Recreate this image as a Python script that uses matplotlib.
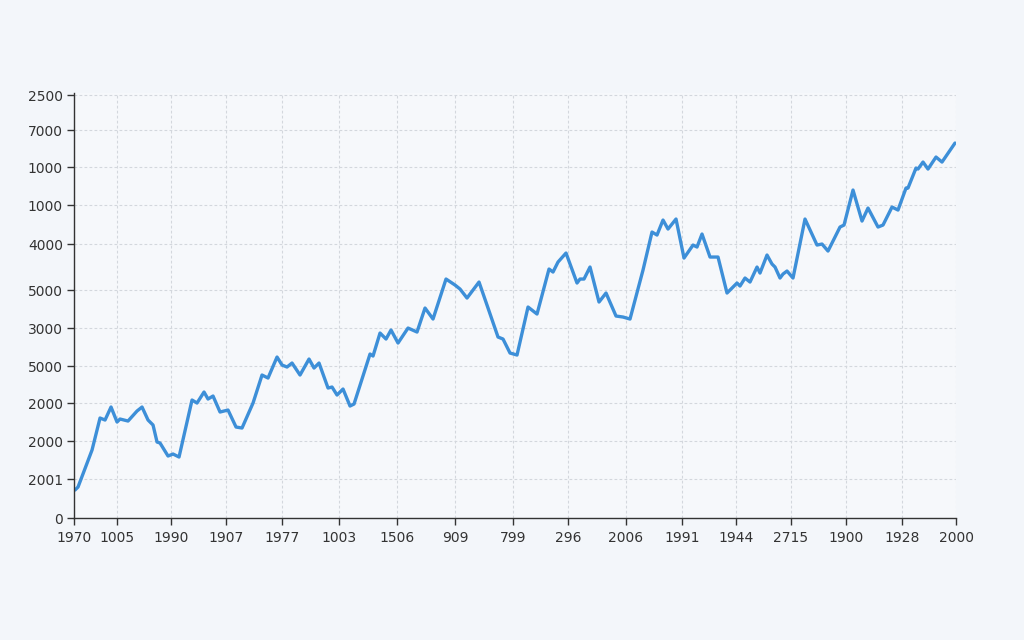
import matplotlib
matplotlib.use("Agg")
from matplotlib import pyplot as plt

# line readings (step, value)
steps = [1, 4, 18, 26, 31, 37, 43, 46, 54, 63,
         68, 74, 79, 83, 86, 94, 99, 105, 118, 123,
         130, 134, 139, 146, 154, 162, 168, 179, 188, 194,
         203, 208, 213, 218, 226, 235, 240, 245, 254, 258,
         263, 269, 276, 280, 296, 299, 306, 312, 317, 324,
         334, 343, 351, 359, 372, 381, 386, 393, 405, 414,
         424, 429, 436, 443, 454, 463, 475, 479, 484, 492,
         503, 506, 510, 516, 525, 532, 542, 549, 556, 569,
         578, 583, 589, 594, 602, 610, 619, 623, 628, 636,
         644, 653, 663, 666, 671, 676, 683, 686, 693, 698,
         701, 706, 709, 713, 719, 731, 743, 748, 754, 766,
         770, 779, 788, 794, 804, 809, 818, 824, 832, 834,
         842, 844, 849, 854, 862, 868, 881]
values = [28, 31, 68, 100, 98, 111, 96, 99, 97, 107,
          111, 98, 93, 76, 75, 62, 64, 61, 118, 115,
          126, 119, 122, 106, 108, 91, 90, 115, 143, 140,
          161, 153, 151, 155, 143, 159, 150, 155, 130, 131,
          123, 129, 112, 114, 164, 162, 185, 179, 188, 175,
          190, 186, 210, 199, 239, 233, 229, 220, 236, 210,
          181, 179, 165, 163, 211, 204, 249, 246, 256, 265,
          235, 239, 239, 251, 216, 225, 202, 201, 199, 248,
          286, 283, 298, 289, 299, 260, 273, 271, 284, 261,
          261, 225, 235, 232, 240, 236, 251, 245, 263, 254,
          251, 240, 244, 247, 240, 299, 273, 274, 267, 291,
          293, 328, 297, 310, 291, 293, 311, 308, 330, 330,
          350, 349, 356, 349, 361, 356, 375]

x_tick_pos = [0, 43, 97, 152, 208, 265, 323, 381, 439, 494, 552, 608, 662, 717, 772, 828, 882]
x_tick_labels = ['1970', '1005', '1990', '1907', '1977', '1003', '1506', '909', '799',
                 '296', '2006', '1991', '1944', '2715', '1900', '1928', '2000']

y_tick_pos = [0, 39, 77, 115, 152, 190, 228, 274, 313, 351, 388, 423]
y_tick_labels = ['0', '2001', '2000', '2000', '5000', '3000', '5000', '4000',
                 '1000', '1000', '7000', '2500']

fig = plt.figure(figsize=(10.24, 6.4), dpi=100, facecolor='#f3f6fa')
ax = fig.add_axes([0.0723, 0.1906, 0.8613, 0.664])
ax.set_facecolor('#f6f8fb')

ax.plot(steps, values, color='#3d8fd8', linewidth=2.4,
        solid_joinstyle='round', solid_capstyle='round')

ax.set_xlim(0, 882)
ax.set_ylim(0, 425)
ax.set_xticks(x_tick_pos)
ax.set_xticklabels(x_tick_labels)
ax.set_yticks(y_tick_pos)
ax.set_yticklabels(y_tick_labels)

ax.grid(True, color='#d3d7dd', linestyle=(0, (2.5, 2)), linewidth=0.8)
ax.set_axisbelow(True)

for s in ['top', 'right']:
    ax.spines[s].set_visible(False)
for s in ['left', 'bottom']:
    ax.spines[s].set_color('#333333')
    ax.spines[s].set_linewidth(1.0)

ax.tick_params(axis='both', colors='#333333', labelsize=10, length=5, width=1)
ax.tick_params(axis='x', pad=4)
ax.tick_params(axis='y', pad=3)

fig.savefig('out.png', dpi=100, facecolor=fig.get_facecolor())
